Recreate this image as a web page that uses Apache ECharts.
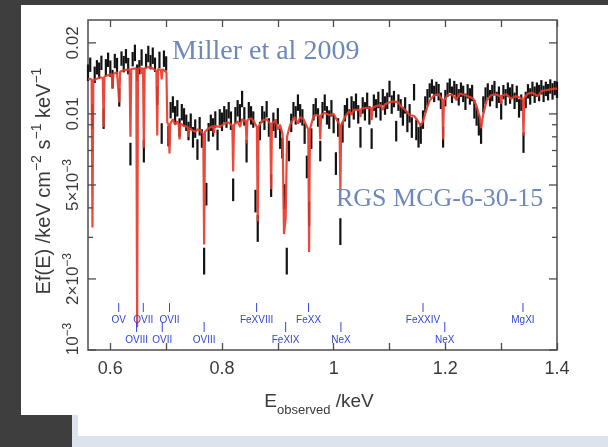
<!DOCTYPE html>
<html>
<head>
<meta charset="utf-8">
<script src="https://cdn.jsdelivr.net/npm/echarts@6/dist/echarts.min.js"></script>
<style>
  html, body { margin: 0; padding: 0; background: #3e3e3e; }
  #stage { position: relative; width: 608px; height: 447px; overflow: hidden; background: #3e3e3e; }
  .panel { position: absolute; }
  #chart { position: absolute; left: 0; top: 0; width: 608px; height: 447px; }
</style>
</head>
<body>
<div id="stage">
  <div class="panel" style="left:72px;top:412px;width:536px;height:35px;background:#dde3ec;"></div>
  <div class="panel" style="left:78px;top:412px;width:530px;height:24px;background:#ffffff;"></div>
  <div class="panel" style="left:21px;top:5px;width:587px;height:410px;background:#ffffff;"></div>
  <div id="chart"></div>
</div>
<script>
// RGS spectrum of MCG-6-30-15: observed energy bins (keV)
const energy = [
  0.560,0.564,0.568,0.572,0.576,0.580,0.584,0.588,0.592,0.596,
  0.600,0.604,0.608,0.612,0.616,0.620,0.624,0.628,0.632,0.636,0.640,0.644,0.648,0.652,0.656,0.660,0.664,0.668,0.672,0.676,0.680,0.684,0.688,0.692,0.696,
  0.700,0.704,0.708,0.712,0.716,0.720,0.724,0.728,0.732,0.736,0.740,0.744,0.748,0.752,0.756,0.760,0.764,0.768,0.772,0.776,0.780,0.784,0.788,0.792,0.796,
  0.800,0.804,0.808,0.812,0.816,0.820,0.824,0.828,0.832,0.836,0.840,0.844,0.848,0.852,0.856,0.860,0.864,0.868,0.872,0.876,0.880,0.884,0.888,0.892,0.896,
  0.900,0.904,0.908,0.912,0.916,0.920,0.924,0.928,0.932,0.936,0.940,0.944,0.948,0.952,0.956,0.960,0.964,0.968,0.972,0.976,0.980,0.984,0.988,0.992,0.996,
  1.000,1.004,1.008,1.012,1.016,1.020,1.024,1.028,1.032,1.036,1.040,1.044,1.048,1.052,1.056,1.060,1.064,1.068,1.072,1.076,1.080,1.084,1.088,1.092,1.096,
  1.100,1.104,1.108,1.112,1.116,1.120,1.124,1.128,1.132,1.136,1.140,1.144,1.148,1.152,1.156,1.160,1.164,1.168,1.172,1.176,1.180,1.184,1.188,1.192,1.196,
  1.200,1.204,1.208,1.212,1.216,1.220,1.224,1.228,1.232,1.236,1.240,1.244,1.248,1.252,1.256,1.260,1.264,1.268,1.272,1.276,1.280,1.284,1.288,1.292,1.296,
  1.300,1.304,1.308,1.312,1.316,1.320,1.324,1.328,1.332,1.336,1.340,1.344,1.348,1.352,1.356,1.360,1.364,1.368,1.372,1.376,1.380,1.384,1.388,1.392,1.396,
  1.400
];

// Measured E f(E) in keV cm^-2 s^-1 keV^-1
const flux = [
  0.0150,0.0162,0.0098,0.0147,0.0158,0.0153,0.0165,0.0096,0.0158,0.0170,
  0.0156,0.0141,0.0168,0.0160,0.0118,0.0172,0.0163,0.0176,0.0160,0.0068,
  0.0171,0.0182,0.0150,0.0158,0.0174,0.0070,0.0168,0.0180,0.0166,0.0177,
  0.0162,0.0120,0.0170,0.0083,0.0172,0.0164,0.0081,0.0104,0.0110,0.0099,
  0.0106,0.0088,0.0102,0.0097,0.0092,0.0085,0.0093,0.0080,0.0087,0.0071,
  0.0089,0.0079,0.0024,0.0046,0.0084,0.0092,0.0088,0.0095,0.0078,0.0097,
  0.0093,0.0100,0.0096,0.0104,0.0094,0.0048,0.0099,0.0106,0.0101,0.0116,
  0.0098,0.0070,0.0104,0.0099,0.0095,0.0043,0.0033,0.0085,0.0100,0.0094,
  0.0105,0.0088,0.0050,0.0093,0.0087,0.0098,0.0079,0.0072,0.0045,0.0024,
  0.0070,0.0092,0.0104,0.0099,0.0112,0.0101,0.0097,0.0083,0.0060,0.0038,
  0.0079,0.0102,0.0108,0.0097,0.0070,0.0104,0.0112,0.0099,0.0095,0.0106,
  0.0091,0.0062,0.0088,0.0032,0.0084,0.0101,0.0108,0.0096,0.0110,0.0104,
  0.0113,0.0100,0.0080,0.0109,0.0103,0.0114,0.0099,0.0079,0.0112,0.0106,
  0.0115,0.0103,0.0118,0.0109,0.0114,0.0128,0.0110,0.0116,0.0085,0.0112,
  0.0106,0.0098,0.0109,0.0093,0.0101,0.0088,0.0124,0.0086,0.0080,0.0083,
  0.0095,0.0110,0.0118,0.0126,0.0131,0.0122,0.0128,0.0124,0.0114,0.0080,
  0.0117,0.0127,0.0132,0.0121,0.0129,0.0124,0.0118,0.0127,0.0122,0.0113,
  0.0125,0.0119,0.0123,0.0105,0.0098,0.0090,0.0083,0.0110,0.0120,0.0126,
  0.0117,0.0123,0.0129,0.0115,0.0121,0.0104,0.0124,0.0118,0.0127,0.0120,
  0.0125,0.0114,0.0122,0.0106,0.0112,0.0076,0.0115,0.0125,0.0119,0.0128,
  0.0121,0.0127,0.0123,0.0130,0.0122,0.0128,0.0124,0.0131,0.0125,0.0129,
  0.0127
];

// 1-sigma error on each bin, per cent of the flux
const fluxErr = [
  8,7,12,8,7,8,7,10,8,7,
  8,9,7,8,9,7,8,7,8,11,
  7,8,8,7,8,11,7,8,7,8,
  7,9,8,10,8,7,10,8,8,9,
  8,9,8,9,8,9,8,10,9,10,
  9,9,13,11,9,8,9,8,10,8,
  9,8,9,8,9,11,8,8,9,8,
  9,11,8,9,8,11,13,9,8,9,
  8,9,11,9,9,8,10,10,12,13,
  10,9,8,9,8,9,8,10,11,12,
  10,8,8,9,10,8,8,9,9,8,
  9,11,9,13,10,8,8,9,8,9,
  8,9,10,8,9,8,9,10,8,9,
  8,9,8,9,8,8,9,8,10,8,
  9,9,8,10,9,10,8,10,10,10,
  9,8,8,7,7,8,7,8,8,10,
  8,7,7,8,7,8,8,7,8,8,
  7,8,8,9,9,10,10,8,8,7,
  8,8,7,8,8,9,7,8,7,8,
  7,8,8,9,8,10,8,7,8,7,
  8,7,8,7,8,7,8,7,8,7,
  8
];

// Best-fitting warm-absorber model, sampled finely around the narrow absorption lines
const modelEnergy = [
  0.560,0.5665,0.568,0.5695,0.576,0.582,0.5865,0.588,0.5895,0.596,
  0.6025,0.604,0.6055,0.612,0.6145,0.616,0.6175,0.624,0.630,0.6345,
  0.636,0.6375,0.6465,0.648,0.6495,0.6545,0.656,0.6585,0.660,0.6615,
  0.668,0.676,0.6825,0.684,0.6855,0.6905,0.692,0.6935,0.7005,0.702,
  0.7045,0.706,0.7075,0.712,0.716,0.720,0.7225,0.724,0.7255,0.732,
  0.7385,0.740,0.7415,0.748,0.752,0.756,0.762,0.7665,0.768,0.7695,
  0.776,0.784,0.7855,0.787,0.796,0.804,0.812,0.8185,0.820,0.8215,
  0.828,0.8325,0.836,0.8425,0.844,0.8455,0.852,0.858,0.8625,0.864,
  0.8655,0.872,0.880,0.8865,0.888,0.8895,0.896,0.900,0.904,0.9085,
  0.911,0.914,0.9165,0.922,0.930,0.936,0.940,0.946,0.9545,0.956,
  0.9575,0.964,0.970,0.9745,0.976,0.9775,0.984,0.992,1.000,1.006,
  1.0105,1.012,1.0135,1.020,1.028,1.032,1.036,1.0465,1.048,1.0495,
  1.056,1.0665,1.068,1.0695,1.076,1.084,1.088,1.092,1.100,1.108,
  1.116,1.120,1.128,1.136,1.144,1.150,1.156,1.160,1.166,1.172,
  1.180,1.188,1.1945,1.196,1.1975,1.204,1.212,1.2195,1.226,1.236,
  1.244,1.250,1.256,1.262,1.264,1.268,1.274,1.282,1.290,1.2985,
  1.300,1.3015,1.310,1.3175,1.326,1.334,1.3385,1.340,1.3415,1.348,
  1.356,1.366,1.372,1.380,1.388,1.396,1.400
];
const modelFlux = [
  0.0141,0.0140,0.0033,0.0139,0.0141,0.0143,0.0142,0.0088,0.0144,0.0146,
  0.0147,0.0128,0.0148,0.0150,0.0150,0.0112,0.0151,0.0153,0.0154,0.0154,
  0.0080,0.0155,0.0156,0.00125,0.0155,0.0157,0.0148,0.0157,0.0072,0.0156,
  0.0158,0.0156,0.0152,0.0081,0.0155,0.0154,0.0140,0.0155,0.0150,0.0092,
  0.0090,0.0068,0.0091,0.0095,0.0090,0.0093,0.0090,0.0078,0.0091,0.0089,
  0.0088,0.0080,0.0087,0.0085,0.0084,0.0086,0.0085,0.0082,0.0028,0.0084,
  0.0087,0.0089,0.0083,0.0089,0.0088,0.0091,0.0092,0.0089,0.0057,0.0090,
  0.0093,0.0088,0.0095,0.0093,0.0075,0.0094,0.0096,0.0092,0.0088,0.0035,
  0.0088,0.0094,0.0095,0.0091,0.0048,0.0091,0.0094,0.0086,0.0090,0.0082,
  0.0031,0.0036,0.0080,0.0090,0.0097,0.0091,0.0097,0.0095,0.0086,0.0026,
  0.0086,0.0098,0.0099,0.0098,0.0078,0.0099,0.0101,0.0099,0.0100,0.0094,
  0.0090,0.0047,0.0089,0.0097,0.0103,0.0099,0.0104,0.0104,0.0097,0.0105,
  0.0106,0.0106,0.0094,0.0106,0.0108,0.0109,0.0104,0.0110,0.0112,0.0113,
  0.0112,0.0108,0.0104,0.0099,0.0098,0.0094,0.0089,0.0093,0.0104,0.0114,
  0.0120,0.0121,0.0115,0.0078,0.0114,0.0120,0.0121,0.0115,0.0122,0.0120,
  0.0118,0.0116,0.0108,0.0096,0.0087,0.0100,0.0114,0.0120,0.0121,0.0119,
  0.0110,0.0120,0.0121,0.0116,0.0119,0.0117,0.0115,0.0081,0.0117,0.0122,
  0.0123,0.0119,0.0125,0.0126,0.0127,0.0128,0.0128
];

// Identified absorption lines (labels at observed energy), row 0 = upper, 1 = lower
const lineNames    = ['OV', 'OVII', 'OVII', 'OVIII', 'OVII', 'OVIII', 'FeXVIII', 'FeXX', 'FeXIX', 'NeX', 'FeXXIV', 'NeX', 'MgXI'];
const lineEnergies = [0.615, 0.659, 0.706, 0.647, 0.693, 0.768, 0.862, 0.955, 0.914, 1.013, 1.160, 1.199, 1.339];
const lineRows     = [0, 0, 0, 1, 1, 1, 0, 0, 1, 1, 0, 1, 0];

// Axis ticks and labels
const X_MIN = 0.56, X_MAX = 1.4;
const Y_MIN = 0.001, Y_MAX = 0.025;
const xTickValues  = [0.6, 0.7, 0.8, 0.9, 1.0, 1.1, 1.2, 1.3, 1.4];
const xLabelValues = [0.6, 0.8, 1.0, 1.2, 1.4];
const yTickValues  = [0.001, 0.002, 0.003, 0.004, 0.005, 0.006, 0.007, 0.008, 0.009, 0.01, 0.02];
const yLabelValues = [0.001, 0.002, 0.005, 0.01, 0.02];

const SANS = '"Liberation Sans", Arial, Helvetica, sans-serif';
const SERIF = '"Liberation Serif", "Times New Roman", serif';
const AXIS_TEXT = '#3a3a3a';
const FRAME = '#4d4d4d';
const LINE_BLUE = '#3346d6';
const DATA_INK = '#121212';

const chart = echarts.init(document.getElementById('chart'), null, { renderer: 'canvas' });

function yLabelText(v) {
  if (v >= 0.01) return '{m|' + String(v) + '}';
  const mant = Math.round(v / 0.001);
  return '{m|' + (mant === 1 ? '' : mant + '×') + '10}{s|−3}';
}

// Each bin: a solid error bar (flux ± error) as wide as the bin
function renderErrorBar(params, api) {
  const e = api.value(0), f = api.value(1), er = api.value(2) / 100;
  const c = api.coord([e, f]);
  const lo = api.coord([e, f * (1 - er)]);
  const hi = api.coord([e, f * (1 + er)]);
  return {
    type: 'group',
    children: [
      { type: 'rect', shape: { x: c[0] - 1.1, y: hi[1], width: 2.2, height: lo[1] - hi[1] }, style: { fill: DATA_INK } }
    ]
  };
}

function renderYTick(params, api) {
  const v = api.value(1);
  const y = api.coord([X_MIN, v])[1];
  const cs = params.coordSys;
  const labelled = yLabelValues.indexOf(v) >= 0;
  const len = labelled ? 8 : 5;
  const tickStyle = { stroke: FRAME, lineWidth: 1.3 };
  const children = [
    { type: 'line', shape: { x1: cs.x, y1: y, x2: cs.x + len, y2: y }, style: tickStyle },
    { type: 'line', shape: { x1: cs.x + cs.width - len, y1: y, x2: cs.x + cs.width, y2: y }, style: tickStyle }
  ];
  if (labelled) {
    const shift = v === Y_MIN ? -11 : 0;
    children.push({
      type: 'text',
      x: cs.x - 15,
      y: y + shift,
      rotation: Math.PI / 2,
      style: {
        text: yLabelText(v),
        fill: AXIS_TEXT,
        align: 'center', verticalAlign: 'middle',
        textAlign: 'center', textVerticalAlign: 'middle',
        rich: {
          m: { fontSize: 17, fontFamily: SANS, fill: AXIS_TEXT, lineHeight: 22 },
          s: { fontSize: 12, fontFamily: SANS, fill: AXIS_TEXT, lineHeight: 10, verticalAlign: 'top' }
        }
      }
    });
  }
  return { type: 'group', children: children };
}

function renderLineLabel(params, api) {
  const e = api.value(0);
  const k = api.value(2);
  const x = api.coord([e, 0.01])[0];
  const cs = params.coordSys;
  const bottom = cs.y + cs.height;
  const row = lineRows[k];
  const tickTop = row === 0 ? bottom - 47 : bottom - 28;
  const tickBot = row === 0 ? bottom - 38 : bottom - 18;
  const textY = row === 0 ? bottom - 30 : bottom - 10;
  return {
    type: 'group',
    children: [
      { type: 'line', shape: { x1: x, y1: tickTop, x2: x, y2: tickBot }, style: { stroke: LINE_BLUE, lineWidth: 1 } },
      {
        type: 'text', x: x, y: textY,
        style: {
          text: lineNames[k], fill: LINE_BLUE,
          fontSize: 10, fontFamily: SANS,
          align: 'center', verticalAlign: 'middle',
          textAlign: 'center', textVerticalAlign: 'middle'
        }
      }
    ]
  };
}

const option = {
  backgroundColor: 'transparent',
  animation: false,
  grid: {
    left: 88, top: 20, width: 469, height: 330,
    show: true, borderColor: FRAME, borderWidth: 1.5, backgroundColor: 'transparent'
  },
  xAxis: [
    {
      type: 'value', min: X_MIN, max: X_MAX, position: 'bottom',
      axisLine: { show: false },
      axisTick: { show: true, inside: true, length: 7, customValues: xTickValues, lineStyle: { color: FRAME, width: 1.3 } },
      axisLabel: {
        show: true, customValues: xLabelValues, margin: 10,
        fontSize: 18, fontFamily: SANS, color: AXIS_TEXT,
        formatter: function (v) { return String(+(+v).toFixed(2)); }
      },
      splitLine: { show: false }
    },
    {
      type: 'value', min: X_MIN, max: X_MAX, position: 'top',
      axisLine: { show: false },
      axisTick: { show: true, inside: true, length: 7, customValues: xTickValues, lineStyle: { color: FRAME, width: 1.3 } },
      axisLabel: { show: false },
      splitLine: { show: false }
    }
  ],
  yAxis: {
    type: 'log', logBase: 10, min: Y_MIN, max: Y_MAX,
    axisLine: { show: false }, axisTick: { show: false }, axisLabel: { show: false },
    splitLine: { show: false }, minorTick: { show: false }
  },
  graphic: [
    {
      type: 'text', x: 172, y: 52, z: 50,
      style: {
        text: 'Miller et al 2009', fill: '#6d88bd', font: '28px ' + SERIF,
        align: 'left', verticalAlign: 'middle', textAlign: 'left', textVerticalAlign: 'middle'
      }
    },
    {
      type: 'text', x: 336, y: 199, z: 50,
      style: {
        text: 'RGS MCG-6-30-15', fill: '#6d88bd', font: '26px ' + SERIF,
        align: 'left', verticalAlign: 'middle', textAlign: 'left', textVerticalAlign: 'middle'
      }
    },
    {
      type: 'text', x: 44, y: 181, rotation: Math.PI / 2, z: 50,
      style: {
        text: '{m|Ef(E) /keV cm}{s|−2}{m| s}{s|−1}{m| keV}{s|−1}',
        fill: AXIS_TEXT,
        align: 'center', verticalAlign: 'middle', textAlign: 'center', textVerticalAlign: 'middle',
        rich: {
          m: { fontSize: 20, fontFamily: SANS, fill: AXIS_TEXT, lineHeight: 28 },
          s: { fontSize: 14, fontFamily: SANS, fill: AXIS_TEXT, lineHeight: 12, verticalAlign: 'top' }
        }
      }
    },
    {
      type: 'text', x: 319, y: 402, z: 50,
      style: {
        text: '{m|E}{b|observed}{m| /keV}',
        fill: AXIS_TEXT,
        align: 'center', verticalAlign: 'middle', textAlign: 'center', textVerticalAlign: 'middle',
        rich: {
          m: { fontSize: 19, fontFamily: SANS, fill: AXIS_TEXT, lineHeight: 30 },
          b: { fontSize: 13, fontFamily: SANS, fill: AXIS_TEXT, lineHeight: 12, verticalAlign: 'bottom' }
        }
      }
    }
  ],
  series: [
    {
      name: 'data', type: 'custom', z: 2,
      renderItem: renderErrorBar,
      dimensions: ['energy', 'flux', 'err'],
      encode: { x: 'energy', y: 'flux' },
      data: energy.map(function (e, i) { return [e, flux[i], fluxErr[i]]; })
    },
    {
      name: 'model', type: 'line', z: 3,
      showSymbol: false, symbol: 'none',
      lineStyle: { color: '#e8392b', width: 2.2, opacity: 0.92 },
      data: modelEnergy.map(function (e, i) { return [e, modelFlux[i]]; })
    },
    {
      name: 'yticks', type: 'custom', z: 4, silent: true,
      renderItem: renderYTick,
      encode: { x: 0, y: 1 },
      data: yTickValues.map(function (v) { return [X_MIN, v]; })
    },
    {
      name: 'lines', type: 'custom', z: 4, silent: true,
      renderItem: renderLineLabel,
      encode: { x: 0, y: 1 },
      data: lineEnergies.map(function (e, k) { return [e, 0.01, k]; })
    }
  ]
};

chart.setOption(option);
</script>
</body>
</html>
